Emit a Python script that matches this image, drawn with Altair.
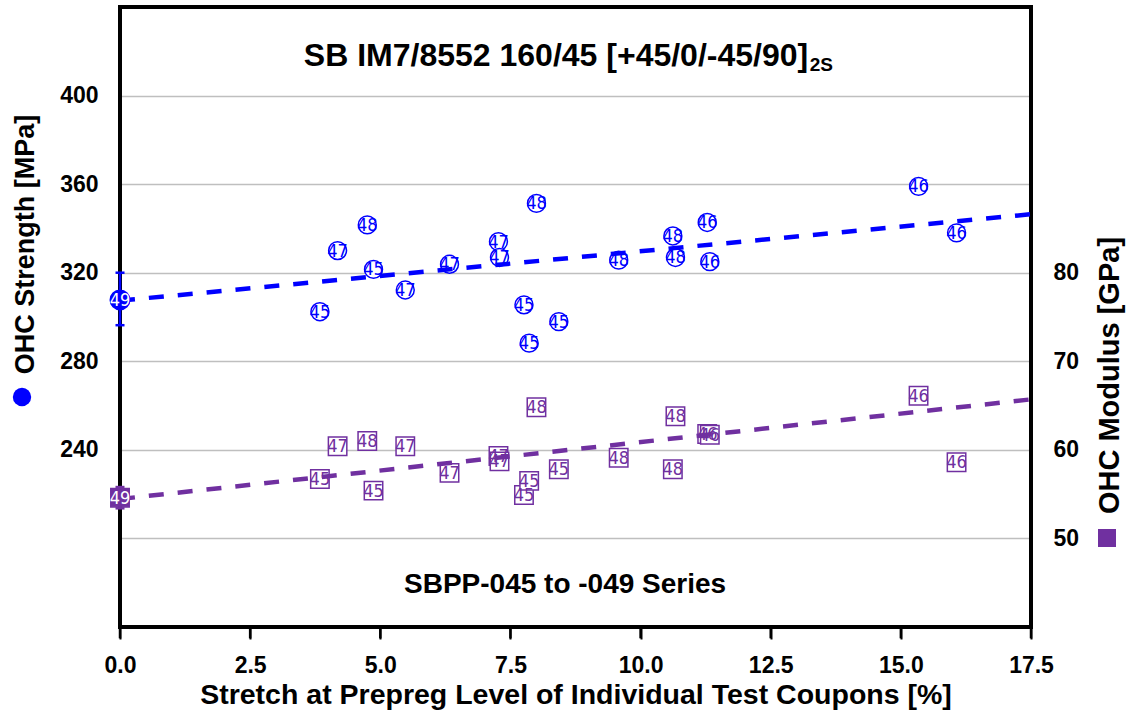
import altair as alt
import pandas as pd

# ---------------- data ----------------
coupon = ["45", "47", "48", "45", "47", "47", "47", "47", "48", "45",
          "45", "45", "48", "48", "48", "46", "46", "46", "46"]
stretch = [3.84, 4.18, 4.75, 4.87, 5.48, 6.33, 7.27, 7.29, 8.00, 7.76,
           8.43, 7.86, 9.58, 10.62, 10.67, 11.28, 11.33, 15.34, 16.07]
strength = [302.4, 330.0, 341.6, 321.5, 312.2, 323.8, 334.0, 326.9, 351.3, 305.5,
            297.9, 288.2, 325.7, 336.6, 326.9, 342.7, 325.0, 359.0, 338.0]
modulus = [56.7, 60.4, 61.0, 55.4, 60.4, 57.4, 59.3, 58.7, 64.8, 54.9,
           57.8, 56.5, 59.1, 57.8, 63.8, 61.8, 61.7, 66.1, 58.6]

ref_label = ["49"]
ref_stretch = [0.0]
ref_strength = [307.7]
ref_strength_lo = [296.3]
ref_strength_hi = [320.0]
ref_modulus = [54.6]
ref_modulus_lo = [53.4]
ref_modulus_hi = [55.8]

trend_stretch = [0.0, 17.5]
trend_strength = [307.4, 346.4]
trend_modulus = [54.45, 65.7]

x_ticks = [0.0, 2.5, 5.0, 7.5, 10.0, 12.5, 15.0, 17.5]
strength_ticks = [200, 240, 280, 320, 360, 400]
modulus_ticks = [50, 60, 70, 80]

title_main = "SB IM7/8552 160/45 [+45/0/-45/90]"
title_sub = "2S"
series_text = "SBPP-045 to -049 Series"
x_title = "Stretch at Prepreg Level of Individual Test Coupons [%]"
s_title = "OHC Strength [MPa]"
m_title = "OHC Modulus [GPa]"

# ---------------- styling / layout ----------------
FONT = "Liberation Sans"
NARROW = "Liberation Sans Narrow, DejaVu Sans Condensed, Liberation Sans"
BLUE = "#0000FF"
PURPLE = "#7030A0"
W = 911          # plot width
PH = 620         # framed plot height (160..440 MPa)
TICK = 12        # band under the frame that holds the x tick marks
H = PH + TICK    # view height
S_LO = 160 - TICK * 280 / PH     # strength domain extended by the tick band
M_LO = 40 - TICK * 70 / PH       # modulus domain extended the same way

pts = pd.DataFrame({"x": stretch, "s": strength, "m": modulus, "lab": coupon})
ref = pd.DataFrame({"x": ref_stretch, "s": ref_strength, "s_lo": ref_strength_lo,
                    "s_hi": ref_strength_hi, "m": ref_modulus, "m_lo": ref_modulus_lo,
                    "m_hi": ref_modulus_hi, "lab": ref_label})
caps_s = pd.DataFrame({"x": ref_stretch * 2, "s": ref_strength_lo + ref_strength_hi})
caps_m = pd.DataFrame({"x": ref_stretch * 2, "m": ref_modulus_lo + ref_modulus_hi})
trend = pd.DataFrame({"x": trend_stretch, "s": trend_strength, "m": trend_modulus})
# x tick marks hang from the frame (160 MPa) down through the tick band
xt = pd.DataFrame({"x": x_ticks, "s": [160.0] * len(x_ticks), "s2": [S_LO + 0.3] * len(x_ticks)})
one = pd.DataFrame({"k": [0]})
# annotation anchors, in data units
ann_title = pd.DataFrame({"x": [13.22], "s": [413.4], "t": [title_main]})
ann_sub = pd.DataFrame({"x": [13.25], "s": [411.2], "t": [title_sub]})
ann_series = pd.DataFrame({"x": [8.55], "s": [175.4], "t": [series_text]})

x_enc = alt.X(
    "x:Q",
    scale=alt.Scale(domain=[0, 17.5], nice=False, zero=False),
    axis=alt.Axis(
        values=x_ticks, format=".1f", grid=False, domain=False,
        ticks=True, tickSize=TICK, tickWidth=2, tickColor="black", offset=-TICK,
        labelFlush=False,
        labelFont=FONT, labelFontSize=23, labelFontWeight="bold", labelColor="black",
        labelPadding=15,
        title=x_title, titleFont=FONT, titleFontSize=28.5, titleFontWeight="bold",
        titleColor="black", titleY=76, titleBaseline="alphabetic",
    ),
)

def ys(field):
    return alt.Y(
        field,
        scale=alt.Scale(domain=[S_LO, 440], nice=False, zero=False),
        axis=alt.Axis(
            orient="left", values=strength_ticks,
            labelExpr="datum.value == 200 ? '' : datum.label",
            grid=True, gridColor="#BFBFBF", gridWidth=1.5, domain=False, ticks=False,
            labelPadding=22, labelFont=FONT, labelFontSize=23, labelFontWeight="bold",
            labelColor="black",
            title=s_title, titleFont=FONT, titleFontSize=27, titleFontWeight="bold",
            titleColor="black", titleAngle=270, titleX=-87, titleY=237,
            titleAlign="center", titleBaseline="alphabetic",
        ),
    )

def ym(field):
    return alt.Y(
        field,
        scale=alt.Scale(domain=[M_LO, 110], nice=False, zero=False),
        axis=alt.Axis(
            orient="right", values=modulus_ticks, grid=False, domain=False, ticks=False,
            labelPadding=22, labelFont=FONT, labelFontSize=23, labelFontWeight="bold",
            labelColor="black",
            title=m_title, titleFont=FONT, titleFontSize=29, titleFontWeight="bold",
            titleColor="black", titleAngle=270, titleX=87, titleY=368,
            titleAlign="center", titleBaseline="alphabetic",
        ),
    )

# ---------------- frame and x ticks ----------------
frame = alt.Chart(one).mark_rect(
    fill="white", fillOpacity=0, stroke="black", strokeWidth=4
).encode(x=alt.value(0), x2=alt.value(W), y=alt.value(0), y2=alt.value(PH))
xticks = alt.Chart(xt).mark_rule(color="black", strokeWidth=2.5, opacity=1).encode(
    x=x_enc, y=ys("s:Q"), y2="s2:Q")

# ---------------- strength group ----------------
s_points = alt.Chart(pts).mark_point(
    shape="circle", filled=True, fill="white", stroke=BLUE, strokeWidth=1.5,
    size=320, opacity=1
).encode(x=x_enc, y=ys("s:Q"))
s_text = alt.Chart(pts).mark_text(
    font=NARROW, fontSize=18, color=BLUE, align="center", baseline="middle", dy=1
).encode(x=x_enc, y=ys("s:Q"), text="lab:N")
s_line = alt.Chart(trend).mark_line(
    color=BLUE, strokeWidth=4.5, strokeDash=[15, 14]
).encode(x=x_enc, y=ys("s:Q"))
s_err = alt.Chart(ref).mark_rule(color=BLUE, strokeWidth=2.5).encode(
    x=x_enc, y=ys("s_lo:Q"), y2="s_hi:Q")
s_caps = alt.Chart(caps_s).mark_tick(
    orient="horizontal", color=BLUE, size=9, thickness=2.5, opacity=1
).encode(x=x_enc, y=ys("s:Q"))
s_ref = alt.Chart(ref).mark_point(
    shape="circle", filled=True, fill=BLUE, stroke=BLUE, strokeWidth=1.5,
    size=380, opacity=1
).encode(x=x_enc, y=ys("s:Q"))
s_ref_text = alt.Chart(ref).mark_text(
    font=NARROW, fontSize=18, color="white", align="center", baseline="middle", dy=1
).encode(x=x_enc, y=ys("s:Q"), text="lab:N")
s_legend = alt.Chart(one).mark_point(
    shape="circle", filled=True, color=BLUE, size=336, opacity=1
).encode(x=alt.value(-98), y=alt.value(390))
ttl = alt.Chart(ann_title).mark_text(
    font=FONT, fontSize=32, fontWeight="bold", color="black", align="right",
    baseline="alphabetic"
).encode(x=x_enc, y=ys("s:Q"), text="t:N")
ttl_sub = alt.Chart(ann_sub).mark_text(
    font=FONT, fontSize=19, fontWeight="bold", color="black", align="left",
    baseline="alphabetic"
).encode(x=x_enc, y=ys("s:Q"), text="t:N")
series = alt.Chart(ann_series).mark_text(
    font=FONT, fontSize=28, fontWeight="bold", color="black", align="center",
    baseline="alphabetic"
).encode(x=x_enc, y=ys("s:Q"), text="t:N")

strength_group = alt.layer(
    frame, xticks, s_points, s_text, s_line, s_err, s_caps, s_ref, s_ref_text,
    s_legend, ttl, ttl_sub, series
)

# ---------------- modulus group ----------------
m_points = alt.Chart(pts).mark_point(
    shape="square", filled=True, fill="white", stroke=PURPLE, strokeWidth=1.5,
    size=340, opacity=1
).encode(x=x_enc, y=ym("m:Q"))
m_text = alt.Chart(pts).mark_text(
    font=NARROW, fontSize=18, color=PURPLE, align="center", baseline="middle", dy=1
).encode(x=x_enc, y=ym("m:Q"), text="lab:N")
m_line = alt.Chart(trend).mark_line(
    color=PURPLE, strokeWidth=4.5, strokeDash=[15, 14]
).encode(x=x_enc, y=ym("m:Q"))
m_err = alt.Chart(ref).mark_rule(color=PURPLE, strokeWidth=2.5).encode(
    x=x_enc, y=ym("m_lo:Q"), y2="m_hi:Q")
m_caps = alt.Chart(caps_m).mark_tick(
    orient="horizontal", color=PURPLE, size=9, thickness=2.5, opacity=1
).encode(x=x_enc, y=ym("m:Q"))
m_ref = alt.Chart(ref).mark_point(
    shape="square", filled=True, fill=PURPLE, stroke=PURPLE, strokeWidth=1.5,
    size=340, opacity=1
).encode(x=x_enc, y=ym("m:Q"))
m_ref_text = alt.Chart(ref).mark_text(
    font=NARROW, fontSize=18, color="white", align="center", baseline="middle", dy=1
).encode(x=x_enc, y=ym("m:Q"), text="lab:N")
m_legend = alt.Chart(one).mark_point(
    shape="square", filled=True, color=PURPLE, size=324, opacity=1
).encode(x=alt.value(987), y=alt.value(531))

modulus_group = alt.layer(
    m_points, m_text, m_line, m_err, m_caps, m_ref, m_ref_text, m_legend
)

chart = (
    alt.layer(strength_group, modulus_group)
    .resolve_scale(y="independent")
    .properties(
        width=W, height=H,
        padding={"left": 120, "top": 7, "right": 96, "bottom": 717 - 7 - H},
        autosize="none", background="white",
    )
    .configure(font=FONT)
    .configure_view(stroke=None)
)

chart.save("out.html", embed_options={"renderer": "svg", "actions": False})
